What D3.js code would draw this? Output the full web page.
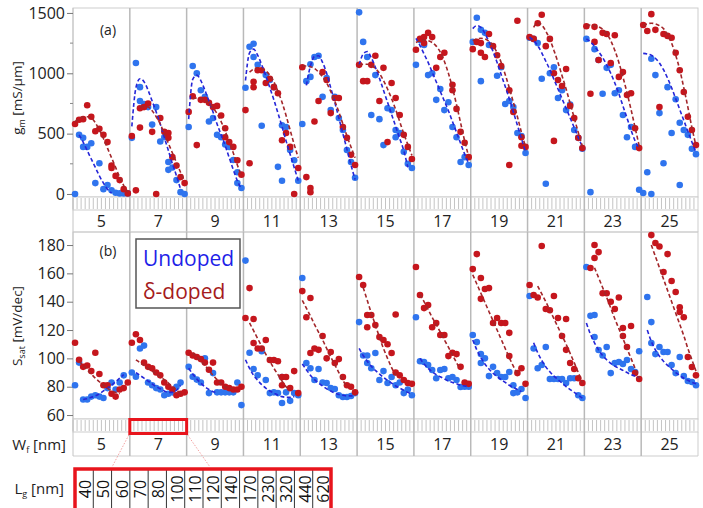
<!DOCTYPE html>
<html>
<head>
<meta charset="utf-8">
<script src="https://cdn.jsdelivr.net/npm/d3@7"></script>
<style>
body { margin: 0; background: #fff; }
svg text { font-family: "Open Sans", sans-serif; }
</style>
</head>
<body>
<svg width="703" height="508"></svg>
<script>
// fin widths (groups) and gate lengths (positions inside each group)
const wf = [5, 7, 9, 11, 13, 15, 17, 19, 21, 23, 25];
const lg = [40, 50, 60, 70, 80, 100, 110, 120, 140, 170, 230, 320, 440, 620];

// gm [mS/um], one row per Wf, one entry per Lg (array = several devices)
const gmUndoped = [
    [0, 490, [465, 390], 390, 420, 90, 255, 40, 75, 30, 10, 5, 5, 5],
    [465, 1085, [885, 770], 745, 720, 575, 720, 435, 470, [265, 200], 220, 115, 15, 0],
    [555, 1060, 1000, 860, 805, 600, 630, 490, 470, 410, 390, 282, [180, 90], 50],
    [880, 1220, [1245, 1135], 1070, 565, 985, 945, 885, 225, [570, 110], 555, 365, 280, 110],
    [580, 935, [970, 1075], 1135, 1145, 805, 960, 695, 805, 630, 530, 365, 265, 135],
    [1505, 1260, 1135, 655, 985, 620, 405, 710, 695, [470, 530], 505, 350, 250, 215],
    [1070, 1275, 1235, 985, 1000, 780, 870, 695, 760, 555, 470, 265, 305, 240],
    [1260, 1460, [1360, 935], 1335, 1235, null, 980, 1050, 745, 770, 720, 505, 480, 340],
    [1295, 1285, 1250, 955, 85, 1000, 1050, 795, 860, 695, 740, 530, 465, 375],
    [1285, 15, 1200, 1110, 830, 1045, 1070, 835, 860, 655, 470, 555, 390, 35],
    [8, 180, [0, 1120], 985, 670, 255, 885, 505, 785, [590, 75], 530, 490, 375, 330]
];
const gmDoped = [
    [580, 615, 620, 735, 640, 520, 540, 490, 430, [235, 215], 150, 115, 40, 5],
    [480, 30, [710, 550], 720, 750, 515, 0, 630, 515, [505, 465], 305, 235, 140, 90],
    [680, 810, 405, 780, 780, 755, 720, 730, 650, [545, 470], 430, 390, 280, 160],
    [695, 255, [930, 885], 1025, 1025, 920, 955, 885, 835, 445, 505, 390, 0, 215],
    [1050, 140, [50, 15], 600, 770, 1010, 945, 670, 795, 795, 555, 465, 325, 240],
    [1070, 935, 935, 1070, 1145, 770, 1045, 430, 920, 795, 655, 490, 390, 290],
    [1195, 1285, [1300, 1250], 1335, 1300, 1045, 1135, 1170, null, [905, 860], 705, 515, 425, 305],
    [1200, 1260, [1250, 1170], 1135, 1325, 1225, 1150, 1060, null, [860, 240], 680, 1435, [470, 400], 390],
    [1300, 1285, 1415, 1485, 1225, 1285, [1000, 440], 945, 895, 1035, 730, 630, 465, 380],
    [1390, 830, [1385, 1260], 1110, 1335, 1325, 1085, 1315, 970, 1010, 820, 835, 545, 380],
    [1400, 1350, 1490, 1360, 720, 1325, 1310, 1295, 1170, 1025, 845, 640, 530, 405]
];
const gmUndopedFit = [
    [null, 490, 430, 360, 290, 220, 150, 90, 40, 10, null, null, null, null],
    [560, 880, 955, 930, 860, 770, 680, 580, 470, 360, 250, 150, 40, null],
    [620, 950, 985, 940, 860, 770, 680, 580, 490, 400, 300, 200, 110, 40],
    [940, 1170, 1200, 1150, 1070, 980, 880, 780, 670, 560, 440, 330, 220, 110],
    [null, 900, 1060, 1140, 1145, 1090, 1000, 880, 760, 630, 500, 370, 240, 120],
    [1070, 1160, 1180, 1130, 1050, 960, 860, 760, 660, 560, 460, 360, 220, null],
    [1290, 1230, 1160, 1090, 1010, 930, 850, 770, 690, 600, 510, 420, 330, 250],
    [1370, 1395, 1380, 1330, 1260, 1180, 1090, 990, 890, 790, 680, 570, 460, 350],
    [1300, 1270, 1230, 1170, 1100, 1030, 950, 870, 790, 710, 630, 550, 470, 390],
    [1285, 1260, 1225, 1180, 1130, 1070, 1000, 920, 830, 730, 630, 530, 440, 380],
    [1165, 1160, 1150, 1125, 1085, 1030, 960, 880, 790, 700, 610, 520, 430, 345]
];
const gmDopedFit = [
    [600, 625, 638, 640, 630, 590, 530, 460, 380, 300, 220, 140, 70, 15],
    [null, null, 720, 725, 720, 690, 640, 580, 500, 420, 340, 260, 180, 110],
    [null, 790, 795, 790, 775, 750, 715, 665, 600, 520, 430, 340, 240, 150],
    [null, 1010, 1035, 1045, 1040, 1020, 985, 930, 850, 760, 650, 530, 410, 300],
    [1060, 1060, 1055, 1040, 1010, 970, 920, 850, 770, 680, 580, 480, 390, 300],
    [1070, 1075, 1075, 1065, 1040, 1000, 940, 870, 790, 700, 600, 500, 410, 320],
    [1255, 1270, 1275, 1270, 1255, 1225, 1175, 1100, 1000, 880, 740, 590, 440, 310],
    [1270, 1285, 1290, 1285, 1265, 1230, 1170, 1090, 990, 880, 760, 640, 510, 390],
    [null, 1380, 1420, 1400, 1350, 1280, 1190, 1090, 980, 870, 750, 630, 510, 395],
    [1395, 1400, 1395, 1385, 1365, 1330, 1270, 1190, 1090, 970, 840, 700, 550, 400],
    [1395, 1410, 1415, 1410, 1395, 1370, 1320, 1250, 1150, 1030, 880, 720, 550, 400]
];

// Ssat [mV/dec]
const ssUndoped = [
    [81, 97, 71, 71, 73, 74, 73, 72, 79, 83, 78, 83, 88, null],
    [90, 87, 107, 109, 83, 81, 79, 78, 74, 75, 76, 80, 83, null],
    [94, 87, 85, 83, 100, 75.5, 89.6, 76, 76, 76, 76, 76, 83, 67],
    [169, 104, 92.5, 88, 105, 84.7, 75.5, 76, 75.5, [68.5, 86.8], 76, 70, 75.5, 74],
    [156.7, 96.7, 93, 84.7, 92.5, 83, 82.6, 79, 78.4, 74, 72.7, 72.7, 73.4, 75.5],
    [125.6, 102, [102, 96.7], 93, 103.8, 84.7, 91, 82.6, 86.8, 81, 83, 75.5, 78, 74],
    [129, 98, 97.4, 95.3, 91.8, 86, 91.8, 92.5, 86, 86.8, 84.7, 79.8, 80, 80],
    [116.5, 111.5, [103, 96.7], 100, 87.5, 94, 89.6, 86.8, 86.8, 90.4, [81, 75.5], 76, 78.4, 72],
    [144, 107, 93, 95.3, 108, 85.4, 85.4, 85.4, 85.4, 82.6, 86, 86, 74, 72],
    [164.5, 130, [130.6, 115], 105.9, 102, 108, 89.6, 96.7, 97.4, 96, 98.8, 92.5, 90.4, 105],
    [null, 143.3, [125.6, 110.8], 103, 108, 104.5, 104.5, 95.3, 89.6, 101, 87.5, 84, 83.3, 81]
];
const ssDoped = [
    [111, 99, 94, 95, 91, 104, 89, 81, 81, 75, 73, 78, 79, 83],
    [111, 117, 113, 97, 94, 93, 90, 88, 83, 80, 78, 74, 75, 76],
    [104, 102, 101, 99.5, 97, 92, 97, 83, 83, 80, 79, 78, 78, 80],
    [128.5, 149.6, [127.8, 110.8], 107, 107, 113, 98.8, 98.8, 98, [86.8, 81], 86.8, 79, 91, 75.5],
    [147.5, 129, [142.6, 103.8], 107, 106, 115.8, 100, 104.5, 96.7, 99.5, 86.8, 81, 80, 76],
    [157.4, 151.8, [130.6, 122], 130.6, 123.5, 115, 113, 110, 103.8, [131, 90], 88, 84.7, 82.6, 82],
    [164.5, 144.7, 135.5, 137.6, 122, 125, 116.5, 116.5, 101.6, 104, 103, 94, 83, 82],
    [163, 173.6, [156.7, 142], 149, 149.6, 125, 128.5, 125, 125, [118, 101.6], null, 89.6, 93, 82],
    [151.8, 144.7, 143, 179.3, 134.8, 134, 144, 128.5, 115.8, [127.8, 106], 96.7, 92.5, 86, 82.6],
    [null, 163.8, [180, 170.8], 175, 146, 146, 140, 134.8, 143, [121.4, 115.8], 108, 122.8, 89.6, 85.4],
    [null, null, 187, 181.4, 179, 161, 173.6, 154.6, 146.8, [136, 132.7], 129, 101, 93.9, 88]
];
const ssUndopedFit = [
    [null, null, 71, 71.5, 72.5, 73.5, 75, 77, 79, 81, 83.5, 86, 88.5, null],
    [null, 90, 88, 86, 84, 82, 80, 78.5, 77, 76, 76, 77.5, 81, null],
    [93, 89, 85.5, 82.5, 80, 78, 76.5, 76, null, null, null, null, null, null],
    [99, 93, 88, 84.5, 81.5, 79, 77, 75.5, 74, 73, 72.5, 72.5, 73, null],
    [96, 92, 88, 85, 82.5, 80.5, 78.5, 77, 75.5, 74.5, 74, 73.5, 73.5, 73.5],
    [107, 102, 98, 94.5, 91.5, 89, 86.5, 84.5, 82.5, 80.5, 79, 77.5, 76, 75],
    [null, 100, 96, 93, 90.5, 88.5, 87, 85.5, 84, 83, 82, 81, 80.5, 80],
    [113, 106, 100.5, 96, 92.5, 89.5, 87, 85, 83, 81, 79.5, 78, 76.5, null],
    [null, 111, 104, 98.5, 94, 90.5, 87.5, 85, 82.5, 80, 78, 76, 74, 72],
    [125, 117, 111, 106, 102, 99, 96.5, 94.5, 93, 91.5, 90, 88.5, 87.5, 86.5],
    [null, 120, 112, 106, 101.5, 98, 95, 92.5, 90, 88, 86, 84.5, 83, 82]
];
const ssDopedFit = [
    [null, 98, 95, 92, 89, 86, 83.5, 81, 79, 77, 76, 75, null, null],
    [null, 99, 97, 95, 93, 91, 89, 87, 85, 82.5, 80, 77.5, 75.5, null],
    [null, 104, 101, 98, 95, 91.5, 88, 85, 82, 80, 79, 78.5, null, null],
    [null, 125, 119.5, 114, 108.5, 103, 98, 93, 88.5, 84, 80, 77, null, null],
    [141, 135.5, 130, 124, 118.5, 113, 107, 101, 95.5, 90, 84.5, 80, null, null],
    [null, 150, 141, 132, 123.5, 115, 107, 100, 93.5, 88, null, null, null, null],
    [null, 145, 140, 134.5, 129, 124, 118.5, 113, 108, 102.5, 97, 92, null, null],
    [159, 152.5, 146, 139.5, 133, 126.5, 120, 113.5, 107, 100.5, 94.5, 89, null, null],
    [null, null, 151, 145.5, 140, 134, 128, 122, 116, 110, 103.5, 97, 90, 83],
    [null, null, 164, 157, 150, 143, 135.5, 128, 121, 114, 107, 100, 93, 86],
    [null, null, 180, 172, 164, 156, 148, 140, 132, 124, 116, 107, 99, 91]
];

const blueDot = '#2f74ee';
const redDot = '#c5161d';
const blueLine = '#2626d8';
const redLine = '#a3262a';
const gridColor = '#b9b9b9';

const svg = d3.select('svg');
const left = 73;
const right = 698;

const xGroup = d3.scaleBand().domain(wf).range([left, right]);
const xInner = d3.scalePoint().domain(lg).range([0, xGroup.bandwidth()]).padding(0.5);
const step = xGroup.bandwidth() / lg.length;

function flatten(rows) {
    const pts = [];
    rows.forEach((row, gi) => {
        row.forEach((v, li) => {
            if (v == null) return;
            [].concat(v).forEach((val) => pts.push({ g: wf[gi], l: lg[li], v: val }));
        });
    });
    return pts;
}

function drawPanel(p) {
    const g = svg.append('g');
    const y = p.y;

    // frame
    g.append('rect')
        .attr('x', left).attr('y', p.top)
        .attr('width', right - left).attr('height', p.bottom - p.top)
        .attr('fill', 'none').attr('stroke', '#cdcdcd');

    // hatched Lg strip
    const stripBottom = p.bottom + 13;
    g.append('rect')
        .attr('x', left).attr('y', p.bottom)
        .attr('width', right - left).attr('height', 13)
        .attr('fill', '#fff').attr('stroke', '#cdcdcd');
    const hatch = [];
    wf.forEach((w) => lg.forEach((l, i) => hatch.push(xGroup(w) + i * step)));
    g.append('g').selectAll('line')
        .data(hatch)
        .enter()
        .append('line')
        .attr('x1', d => d).attr('x2', d => d)
        .attr('y1', p.bottom + 1).attr('y2', stripBottom - 1)
        .attr('stroke', '#bdbdbd').attr('stroke-width', 0.9);

    // Wf label row
    const rowBottom = stripBottom + p.rowH;
    g.append('line')
        .attr('x1', left).attr('x2', right)
        .attr('y1', rowBottom).attr('y2', rowBottom)
        .attr('stroke', '#cdcdcd');
    g.append('line')
        .attr('x1', right).attr('x2', right)
        .attr('y1', stripBottom).attr('y2', rowBottom)
        .attr('stroke', '#cdcdcd');
    g.append('g').selectAll('text')
        .data(wf)
        .enter()
        .append('text')
        .attr('x', d => xGroup(d) + xGroup.bandwidth() / 2)
        .attr('y', stripBottom + p.rowH / 2 + 5.5)
        .attr('text-anchor', 'middle')
        .attr('font-size', 16)
        .attr('fill', '#222')
        .text(d => d);

    // group dividers
    g.append('g').selectAll('line')
        .data(wf.slice(1))
        .enter()
        .append('line')
        .attr('x1', d => xGroup(d)).attr('x2', d => xGroup(d))
        .attr('y1', p.top).attr('y2', rowBottom)
        .attr('stroke', gridColor).attr('stroke-width', 1.5);
    g.append('line')
        .attr('x1', left).attr('x2', left)
        .attr('y1', p.top).attr('y2', rowBottom)
        .attr('stroke', '#c4c4c4').attr('stroke-width', 1);

    // y axis
    const axis = g.append('g')
        .attr('transform', `translate(${left},0)`)
        .call(d3.axisLeft(y).tickValues(p.ticks).tickFormat(d3.format('d')).tickSize(6).tickPadding(2));
    axis.select('.domain').remove();
    axis.selectAll('line').attr('stroke', '#777');
    axis.selectAll('text')
        .attr('font-size', 16)
        .attr('fill', '#222')
        .style('font-family', '"Open Sans", sans-serif');
    if (p.minor) {
        g.append('g').selectAll('line')
            .data(p.minor)
            .enter()
            .append('line')
            .attr('x1', left - 3).attr('x2', left)
            .attr('y1', d => y(d)).attr('y2', d => y(d))
            .attr('stroke', '#888');
    }

    // points
    const dots = g.append('g');
    [[p.undoped, blueDot], [p.doped, redDot]].forEach(([rows, color]) => {
        dots.append('g').selectAll('circle')
            .data(flatten(rows))
            .enter()
            .append('circle')
            .attr('cx', d => xGroup(d.g) + xInner(d.l))
            .attr('cy', d => y(d.v))
            .attr('r', 3.3)
            .attr('fill', color);
    });

    // fitted trends
    const line = d3.line()
        .x(d => d[0]).y(d => d[1])
        .curve(d3.curveMonotoneX);
    [[p.undopedFit, blueLine], [p.dopedFit, redLine]].forEach(([rows, color]) => {
        rows.forEach((row, gi) => {
            const pts = [];
            row.forEach((v, li) => {
                if (v != null) pts.push([xGroup(wf[gi]) + xInner(lg[li]), y(v)]);
            });
            g.append('path')
                .attr('d', line(pts))
                .attr('fill', 'none')
                .attr('stroke', color)
                .attr('stroke-width', 1.6)
                .attr('stroke-dasharray', '4,2.5');
        });
    });

    g.append('text')
        .attr('x', 108).attr('y', p.top + p.tagDy)
        .attr('text-anchor', 'middle')
        .attr('font-size', 14)
        .attr('fill', '#222')
        .text(p.tag);

    return rowBottom;
}

drawPanel({
    top: 8, bottom: 197, rowH: 22,
    y: d3.scaleLinear().domain([-25, 1541]).range([197, 8]),
    ticks: [0, 500, 1000, 1500], minor: [250, 750, 1250],
    undoped: gmUndoped, doped: gmDoped,
    undopedFit: gmUndopedFit, dopedFit: gmDopedFit,
    tag: '(a)', tagDy: 27
});

drawPanel({
    top: 232, bottom: 419, rowH: 24,
    y: d3.scaleLinear().domain([57.2, 189.2]).range([419, 232]),
    ticks: [60, 80, 100, 120, 140, 160, 180],
    undoped: ssUndoped, doped: ssDoped,
    undopedFit: ssUndopedFit, dopedFit: ssDopedFit,
    tag: '(b)', tagDy: 24
});

// axis titles
const gmTitle = svg.append('text')
    .attr('transform', 'translate(22,98) rotate(-90)')
    .attr('text-anchor', 'middle')
    .attr('font-size', 13.5)
    .attr('fill', '#222');
gmTitle.append('tspan').text('g');
gmTitle.append('tspan').attr('font-size', 9).attr('dy', 3).text('m');
gmTitle.append('tspan').attr('dy', -3).text(' [mS/μm]');

const ssTitle = svg.append('text')
    .attr('transform', 'translate(22,326) rotate(-90)')
    .attr('text-anchor', 'middle')
    .attr('font-size', 13.5)
    .attr('fill', '#222');
ssTitle.append('tspan').text('S');
ssTitle.append('tspan').attr('font-size', 9).attr('dy', 3).text('sat');
ssTitle.append('tspan').attr('dy', -3).text(' [mV/dec]');

const wfTitle = svg.append('text')
    .attr('x', 66).attr('y', 450)
    .attr('text-anchor', 'end')
    .attr('font-size', 15)
    .attr('fill', '#222');
wfTitle.append('tspan').text('W');
wfTitle.append('tspan').attr('font-size', 9).attr('dy', 3).text('f');
wfTitle.append('tspan').attr('dy', -3).text(' [nm]');

const lgTitle = svg.append('text')
    .attr('x', 64).attr('y', 494)
    .attr('text-anchor', 'end')
    .attr('font-size', 15)
    .attr('fill', '#222');
lgTitle.append('tspan').text('L');
lgTitle.append('tspan').attr('font-size', 9).attr('dy', 3).text('g');
lgTitle.append('tspan').attr('dy', -3).text(' [nm]');

// legend
const legend = svg.append('g');
legend.append('rect')
    .attr('x', 136).attr('y', 239)
    .attr('width', 104).attr('height', 69)
    .attr('fill', '#fff')
    .attr('stroke', '#555').attr('stroke-width', 1.5);
legend.append('text')
    .attr('x', 143).attr('y', 266)
    .attr('font-size', 21)
    .attr('fill', '#1f1fe8')
    .text('Undoped');
legend.append('text')
    .attr('x', 143).attr('y', 299)
    .attr('font-size', 21)
    .attr('fill', '#a51b20')
    .text('δ-doped');

// zoom box on the Wf = 7 strip and the Lg key below
const zx0 = xGroup(7);
const zx1 = xGroup(7) + xGroup.bandwidth();
svg.append('rect')
    .attr('x', zx0).attr('y', 419.5)
    .attr('width', zx1 - zx0).attr('height', 14)
    .attr('fill', 'none')
    .attr('stroke', '#e8141c').attr('stroke-width', 3);
const keyTop = 469;
svg.append('line')
    .attr('x1', zx0 - 1).attr('y1', 435).attr('x2', 112).attr('y2', keyTop - 2)
    .attr('stroke', '#f08a8a').attr('stroke-width', 0.8).attr('stroke-dasharray', '1.5,1.5');
svg.append('line')
    .attr('x1', zx1 + 1).attr('y1', 435).attr('x2', 210).attr('y2', keyTop - 2)
    .attr('stroke', '#f08a8a').attr('stroke-width', 0.8).attr('stroke-dasharray', '1.5,1.5');

const xKey = d3.scaleBand().domain(lg).range([75, 331]);
const key = svg.append('g');
key.selectAll('line')
    .data(lg.slice(1))
    .enter()
    .append('line')
    .attr('x1', d => xKey(d)).attr('x2', d => xKey(d))
    .attr('y1', keyTop).attr('y2', 512)
    .attr('stroke', '#333').attr('stroke-width', 1);
key.selectAll('text')
    .data(lg)
    .enter()
    .append('text')
    .attr('transform', d => `translate(${xKey(d) + xKey.bandwidth() / 2 + 1},489) rotate(-90)`)
    .attr('text-anchor', 'middle')
    .attr('dominant-baseline', 'central')
    .attr('font-size', 16)
    .attr('fill', '#111')
    .text(d => d);
key.append('rect')
    .attr('x', 75).attr('y', keyTop)
    .attr('width', 256).attr('height', 50)
    .attr('fill', 'none')
    .attr('stroke', '#e8141c').attr('stroke-width', 3.5);
</script>
</body>
</html>
